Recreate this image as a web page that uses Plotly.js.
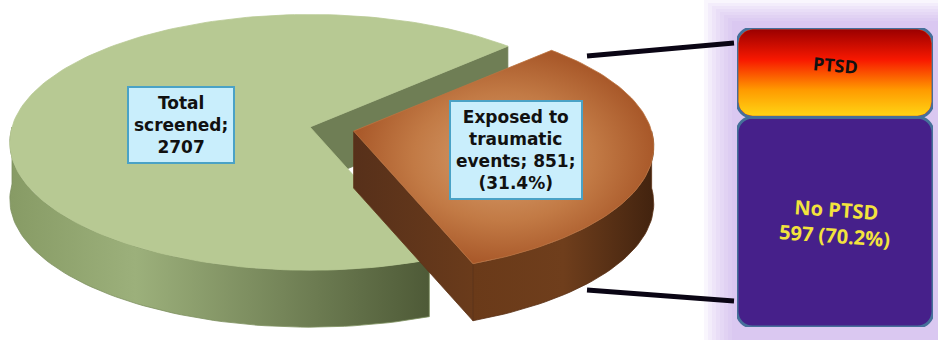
<!DOCTYPE html>
<html><head><meta charset="utf-8">
<script src="https://cdn.plot.ly/plotly-3.0.1.min.js"></script>
<style>html,body{margin:0;padding:0;background:#fff;} #chart{width:938px;height:340px;}</style>
</head><body><div id="chart"></div>
<script>
// ---- data ----
const pieCategories = ["Total screened", "Exposed to traumatic events"];
const pieCounts = [2707, 851];
const piePercents = [100, 31.4];
const barCategories = ["PTSD", "No PTSD"];
const barCounts = [254, 597];
const barPercents = [29.8, 70.2];

// ---- geometry (3-D pie look) ----
const W = 938, H = 340;
const geo = {cx: 310, cy: 127, A: 298, B: 126, k: 0.12, depth: 57, startDeg: 44, explode: 0.15};
const rad = d => d * Math.PI / 180;
function P(t, ox, oy, dz) {
  const s = Math.sin(t), c = Math.cos(t), w = 1 + geo.k * s;
  return [geo.cx + (ox || 0) + geo.A * c / w, geo.cy + (oy || 0) - geo.B * s / w + (dz || 0)];
}
function arc(t0, t1, ox, oy, dz) {
  const n = Math.max(2, Math.ceil(Math.abs(t1 - t0) / rad(1.5)));
  const pts = [];
  for (let i = 0; i <= n; i++) pts.push(P(t0 + (t1 - t0) * i / n, ox, oy, dz));
  return pts;
}
function poly(pts, fill, extra) {
  const xs = pts.map(p => p[0]), ys = pts.map(p => p[1]);
  xs.push(xs[0]); ys.push(ys[0]);
  return Object.assign({type: 'scatter', x: xs, y: ys, mode: 'lines', fill: 'toself',
    fillcolor: fill, line: {width: 0.8, color: fill}, hoverinfo: 'skip', showlegend: false,
    xaxis: 'x', yaxis: 'y'}, extra || {});
}

const frac = pieCounts[1] / pieCounts[0];
const span = 2 * Math.PI * frac;
const t0 = rad(geo.startDeg);
const brownEnd = t0 - span;
const greenEnd = t0 + 2 * Math.PI - span;
const mid = t0 - span / 2;
const ox = geo.explode * geo.A * Math.cos(mid);
const oy = -geo.explode * geo.B * Math.sin(mid);
const d = geo.depth;
const V = [geo.cx, geo.cy];

const traces = [];
// green outer wall
traces.push(poly(arc(Math.PI, greenEnd, 0, 0, 0).concat(arc(greenEnd, Math.PI, 0, 0, d)), '#7d9160',
  {fillgradient: {type: 'horizontal', colorscale: [[0, '#879b65'], [0.3, '#9cb07b'], [1, '#4e5a37']]}}));
// green cut face
traces.push(poly([V, P(t0), P(t0, 0, 0, d), [V[0], V[1] + d]], '#6f7e55'));
// green top
traces.push(poly([V].concat(arc(t0, greenEnd, 0, 0, 0)), '#b7c993'));
// brown cut face
const Vb = [geo.cx + ox, geo.cy + oy];
traces.push(poly([Vb, P(brownEnd, ox, oy), P(brownEnd, ox, oy, d), [Vb[0], Vb[1] + d]], '#5e3518',
  {fillgradient: {type: 'horizontal', colorscale: [[0, '#57301a'], [1, '#6a3b1b']]}}));
// brown outer wall
traces.push(poly(arc(0, brownEnd, ox, oy, 0).concat(arc(brownEnd, 0, ox, oy, d)), '#5a3117',
  {fillgradient: {type: 'horizontal', colorscale: [[0, '#6a3a19'], [0.5, '#6f3e1c'], [1, '#42230f']]}}));
// brown top
traces.push(poly([Vb].concat(arc(t0, brownEnd, ox, oy, 0)), '#bd7440',
  {fillgradient: {type: 'radial', colorscale: [[0, '#d8a070'], [0.6, '#c27a45'], [1, '#a9592a']]}}));

// ---- stacked bar (breakdown of exposed) ----
const barColors = ['#f04a10', '#46208a'];
const barTextColors = ['#111111', '#f3e33d'];
const barTextSizes = [18, 20];
const barTotal = barCounts.reduce((a, b) => a + b, 0);
const bx = {px0: 737, px1: 933, py0: 28, py1: 327};   // pixel box of the bar subplot
const pxPerX = (bx.px1 - bx.px0) / 1, pxPerY = (bx.py1 - bx.py0) / barTotal;
const order = [1, 0];
const bases = [];
let base = 0;
order.forEach(i => { bases[i] = base; base += barCounts[i]; });

order.forEach(i => {
  traces.push({type: 'bar', x: [0], y: [barCounts[i]], base: [bases[i]], width: [1],
    xaxis: 'x2', yaxis: 'y2', cliponaxis: false, hoverinfo: 'skip', showlegend: false,
    marker: {color: barColors[i], line: {color: '#45709a', width: 3}, cornerradius: 16}});
});
// gradient fill for the PTSD segment (rounded rectangle following the bar)
(function () {
  const i = 0, r = 14, inset = 1.6;
  const x0 = -0.5 + inset / pxPerX, x1 = 0.5 - inset / pxPerX;
  const y0 = bases[i] + inset / pxPerY, y1 = bases[i] + barCounts[i] - inset / pxPerY;
  const rx = r / pxPerX, ry = r / pxPerY;
  const pts = [];
  const corner = (cx, cy, a0) => { for (let k = 0; k <= 8; k++) { const a = rad(a0 + 90 * k / 8); pts.push([cx + rx * Math.cos(a), cy + ry * Math.sin(a)]); } };
  corner(x1 - rx, y1 - ry, 0);
  corner(x0 + rx, y1 - ry, 90);
  corner(x0 + rx, y0 + ry, 180);
  corner(x1 - rx, y0 + ry, 270);
  pts.push(pts[0]);
  traces.push({type: 'scatter', x: pts.map(p => p[0]), y: pts.map(p => p[1]), mode: 'lines',
    fill: 'toself', fillcolor: barColors[i], line: {width: 0, color: 'rgba(0,0,0,0)'},
    fillgradient: {type: 'vertical', colorscale: [[0, '#ffd414'], [0.3, '#ff9a00'], [0.65, '#f81800'], [1, '#9c0000']]},
    xaxis: 'x2', yaxis: 'y2', hoverinfo: 'skip', showlegend: false});
})();

// ---- labels ----
const lblFont = {family: 'DejaVu Sans', size: 17, color: '#111'};
const annotations = [
  {x: 181, y: 125, xref: 'x', yref: 'y', showarrow: false,
   text: '<b>' + 'Total<br>screened;<br>' + pieCounts[0] + '</b>',
   font: lblFont, bgcolor: '#c9eefc', bordercolor: '#4aa2c6', borderwidth: 2, borderpad: 5},
  {x: 516, y: 150, xref: 'x', yref: 'y', showarrow: false,
   text: '<b>Exposed to<br>traumatic<br>events; ' + pieCounts[1] + ';<br>(' + piePercents[1].toFixed(1) + '%)</b>',
   font: lblFont, bgcolor: '#c9eefc', bordercolor: '#4aa2c6', borderwidth: 2, borderpad: 5},
  {x: 0, y: bases[0] + barCounts[0] / 2, xref: 'x2', yref: 'y2', yshift: 8, showarrow: false, textangle: 5,
   text: '<b>' + barCategories[0] + '</b>',
   font: {family: 'Open Sans', size: barTextSizes[0], color: barTextColors[0]}},
  {x: 0, y: bases[1] + barCounts[1] / 2, xref: 'x2', yref: 'y2', showarrow: false, textangle: 4,
   text: '<b>' + barCategories[1] + '<br>' + barCounts[1] + ' (' + barPercents[1].toFixed(1) + '%)</b>',
   font: {family: 'Open Sans', size: barTextSizes[1], color: barTextColors[1]}}
];

// soft lavender glow behind the bar (several faint layers) + connector lines
const shapes = [];
for (let g = 0; g < 8; g++) {
  shapes.push({type: 'rect', xref: 'x', yref: 'y', x0: 704 + g * 4, x1: 938, y0: g * 3, y1: 340,
    layer: 'below', line: {width: 0}, fillcolor: 'rgba(185,150,230,0.09)'});
}
shapes.push({type: 'line', xref: 'x', yref: 'y', x0: 587, y0: 56, x1: 734, y1: 43, line: {color: '#0a0514', width: 5}});
shapes.push({type: 'line', xref: 'x', yref: 'y', x0: 587, y0: 290, x1: 734, y1: 301, line: {color: '#0a0514', width: 5}});

const layout = {
  width: W, height: H, margin: {l: 0, r: 0, t: 0, b: 0},
  paper_bgcolor: '#ffffff', plot_bgcolor: 'rgba(0,0,0,0)',
  showlegend: false, barmode: 'overlay', bargap: 0,
  xaxis: {domain: [0, 1], range: [0, W], visible: false, fixedrange: true},
  yaxis: {domain: [0, 1], range: [H, 0], visible: false, fixedrange: true},
  xaxis2: {domain: [bx.px0 / W, bx.px1 / W], range: [-0.5, 0.5], visible: false, anchor: 'y2', fixedrange: true},
  yaxis2: {domain: [(H - bx.py1) / H, (H - bx.py0) / H], range: [0, barTotal], visible: false, anchor: 'x2', fixedrange: true},
  annotations: annotations, shapes: shapes
};
Plotly.newPlot('chart', traces, layout, {displayModeBar: false, staticPlot: true});
</script>
</body></html>
